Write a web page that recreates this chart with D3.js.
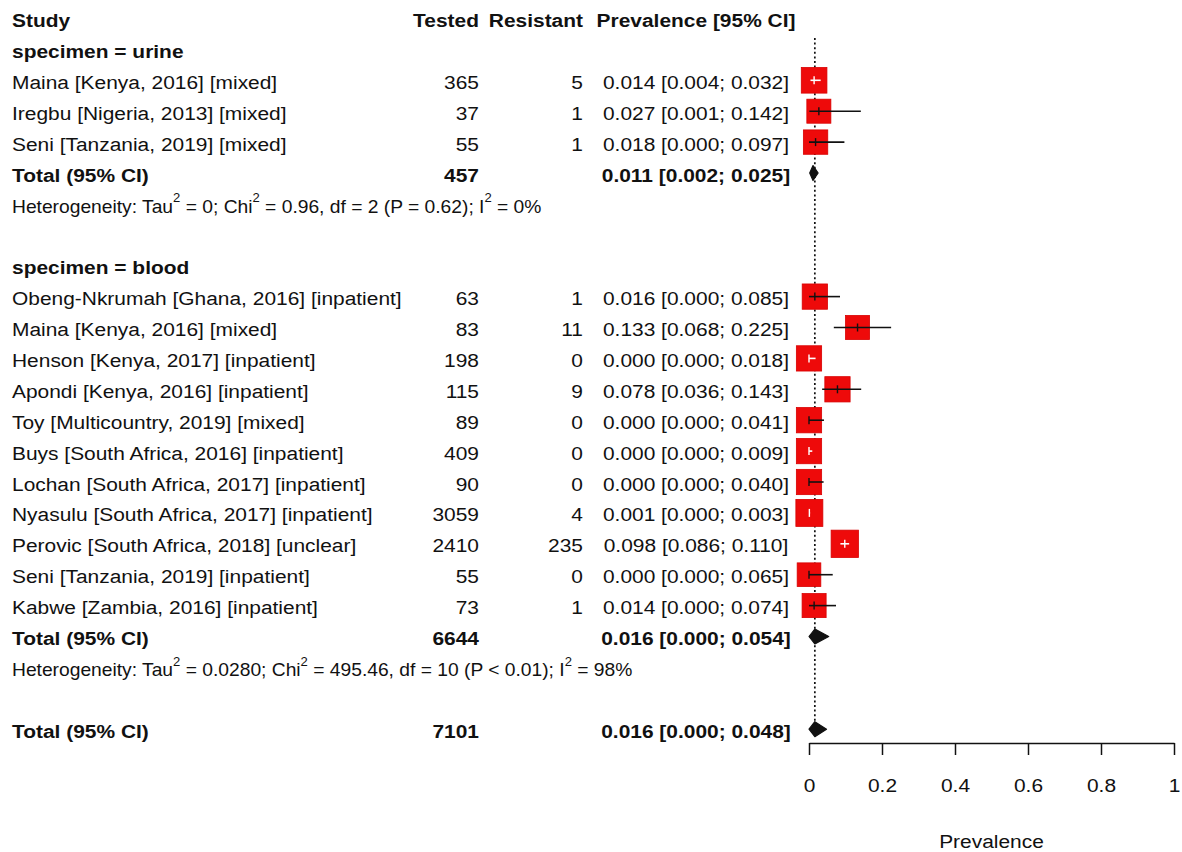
<!DOCTYPE html>
<html><head><meta charset="utf-8">
<script src="https://cdn.jsdelivr.net/npm/d3@7"></script>
<style>
html,body{margin:0;padding:0;background:#fff;}
svg{display:block;font-family:"Liberation Sans", Arial, sans-serif;}
text{white-space:pre;}
</style></head><body>
<svg id="chart" width="1182" height="852"></svg>
<script>
// ---------------- DATA ----------------
const groupNames = ["urine", "blood"];
const studyGroup = ["urine","urine","urine",
  "blood","blood","blood","blood","blood","blood","blood","blood","blood","blood","blood"];
const studyLabels = [
  "Maina [Kenya, 2016] [mixed]",
  "Iregbu [Nigeria, 2013] [mixed]",
  "Seni [Tanzania, 2019] [mixed]",
  "Obeng-Nkrumah [Ghana, 2016] [inpatient]",
  "Maina [Kenya, 2016] [mixed]",
  "Henson [Kenya, 2017] [inpatient]",
  "Apondi [Kenya, 2016] [inpatient]",
  "Toy [Multicountry, 2019] [mixed]",
  "Buys [South Africa, 2016] [inpatient]",
  "Lochan [South Africa, 2017] [inpatient]",
  "Nyasulu [South Africa, 2017] [inpatient]",
  "Perovic [South Africa, 2018] [unclear]",
  "Seni [Tanzania, 2019] [inpatient]",
  "Kabwe [Zambia, 2016] [inpatient]"
];
const tested    = [365, 37, 55, 63, 83, 198, 115, 89, 409, 90, 3059, 2410, 55, 73];
const resistant = [5, 1, 1, 1, 11, 0, 9, 0, 0, 0, 4, 235, 0, 1];
const prevalence = [0.014, 0.027, 0.018, 0.016, 0.133, 0.000, 0.078, 0.000, 0.000, 0.000, 0.001, 0.098, 0.000, 0.014];
const ciLower    = [0.004, 0.001, 0.000, 0.000, 0.068, 0.000, 0.036, 0.000, 0.000, 0.000, 0.000, 0.086, 0.000, 0.000];
const ciUpper    = [0.032, 0.142, 0.097, 0.085, 0.225, 0.018, 0.143, 0.041, 0.009, 0.040, 0.003, 0.110, 0.065, 0.074];
// approximate study weights (%), read from the square sizes
const weights    = [7.4, 6.5, 6.7, 7.2, 6.5, 7.2, 7.2, 7.2, 7.2, 7.2, 8.2, 8.4, 6.3, 6.5];

const subgroupTested = [457, 6644];
const subgroupPrev   = [0.011, 0.016];
const subgroupLower  = [0.002, 0.000];
const subgroupUpper  = [0.025, 0.054];
const hetTau2 = ["0", "0.0280"];
const hetChi2 = ["0.96", "495.46"];
const hetDf   = ["2", "10"];
const hetP    = ["= 0.62", "< 0.01"];
const hetI2   = ["0%", "98%"];

const overallTested = 7101;
const overallPrev = 0.016, overallLower = 0.000, overallUpper = 0.048;

const columnHeaders = ["Study", "Tested", "Resistant", "Prevalence [95% CI]"];
const totalLabel = "Total (95% CI)";
const axisTicks = [0, 0.2, 0.4, 0.6, 0.8, 1];
const axisTitle = "Prevalence";

// ---------------- LAYOUT ----------------
const svg = d3.select("#chart");
const INK = "#111";
const FS = 19.2, SX = 1.09;      // main font size / horizontal stretch
const HFS = 17.5, HSX = 1.10;    // heterogeneity text
const BASE = 8.5;                // baseline offset from row centre

const x = d3.scaleLinear().domain([0, 1]).range([809, 1174]);
const f3 = d3.format(".3f");
const ciText = (p, l, u) => `${f3(p)} [${f3(l)}; ${f3(u)}]`;

// build row list
const rows = [{type: "header"}];
groupNames.forEach((g, gi) => {
  rows.push({type: "group", label: `specimen = ${g}`});
  studyGroup.forEach((sg, i) => { if (sg === g) rows.push({type: "study", i}); });
  rows.push({type: "total", tested: subgroupTested[gi], p: subgroupPrev[gi], l: subgroupLower[gi], u: subgroupUpper[gi]});
  rows.push({type: "het", gi});
  rows.push({type: "blank"});
});
rows.push({type: "total", tested: overallTested, p: overallPrev, l: overallLower, u: overallUpper});

const y = d3.scaleLinear().domain([0, rows.length - 1]).range([18.5, 729.2]);

const colStudy = 12, colTested = 479, colRes = 583, colPrev = 696;

function txt(g, px, py, parts, opt = {}) {
  const size = opt.size || FS, sx = opt.sx || SX;
  const t = g.append("text")
    .attr("transform", `translate(${px},${py}) scale(${sx},1)`)
    .attr("text-anchor", opt.anchor || "start")
    .attr("font-size", size)
    .attr("font-weight", opt.bold ? "bold" : "normal")
    .attr("fill", INK);
  if (typeof parts === "string") { t.text(parts); return t; }
  const up = size * 0.62;
  let raised = false;
  parts.forEach(p => {
    const ts = t.append("tspan").text(p.s);
    if (p.sup) {
      ts.attr("dy", -up).attr("font-size", size * 0.68);
      raised = true;
    } else if (raised) {
      ts.attr("dy", up);
      raised = false;
    }
  });
  return t;
}

const gText = svg.append("g");
const gRef = svg.append("g");
const gMarks = svg.append("g");

// reference dotted line at overall estimate
gRef.append("line")
  .attr("x1", x(overallPrev)).attr("x2", x(overallPrev))
  .attr("y1", 38).attr("y2", 737)
  .attr("stroke", INK).attr("stroke-width", 1.7)
  .attr("stroke-dasharray", "2,2.6");

const sizeScale = d3.scaleSqrt().domain([0, d3.max(weights)]).range([0, 27.3]);

rows.forEach((r, ri) => {
  const cy = y(ri), by = cy + BASE;
  if (r.type === "header") {
    txt(gText, colStudy, by, columnHeaders[0], {bold: true});
    txt(gText, colTested, by, columnHeaders[1], {bold: true, anchor: "end"});
    txt(gText, colRes, by, columnHeaders[2], {bold: true, anchor: "end"});
    txt(gText, colPrev, by, columnHeaders[3], {bold: true, anchor: "middle"});
  } else if (r.type === "group") {
    txt(gText, colStudy, by, r.label, {bold: true});
  } else if (r.type === "study") {
    const i = r.i;
    txt(gText, colStudy, by, studyLabels[i]);
    txt(gText, colTested, by, String(tested[i]), {anchor: "end"});
    txt(gText, colRes, by, String(resistant[i]), {anchor: "end"});
    txt(gText, colPrev, by, ciText(prevalence[i], ciLower[i], ciUpper[i]), {anchor: "middle"});
    const s = sizeScale(weights[i]);
    const cx = x(prevalence[i]);
    gMarks.append("rect")
      .attr("x", cx - s / 2).attr("y", cy - s / 2)
      .attr("width", s).attr("height", s)
      .attr("fill", "#ee0a0a").attr("stroke", "#d80000").attr("stroke-width", 0.8);
    const inside = x(ciLower[i]) >= cx - s / 2 && x(ciUpper[i]) <= cx + s / 2;
    const col = inside ? "#fff" : INK;
    gMarks.append("line")
      .attr("x1", x(ciLower[i])).attr("x2", x(ciUpper[i]))
      .attr("y1", cy).attr("y2", cy)
      .attr("stroke", col).attr("stroke-width", 1.6);
    gMarks.append("line")
      .attr("x1", cx).attr("x2", cx)
      .attr("y1", cy - 4).attr("y2", cy + 4)
      .attr("stroke", col).attr("stroke-width", 1.4);
  } else if (r.type === "total") {
    txt(gText, colStudy, by, totalLabel, {bold: true});
    txt(gText, colTested, by, String(r.tested), {bold: true, anchor: "end"});
    txt(gText, colPrev, by, ciText(r.p, r.l, r.u), {bold: true, anchor: "middle"});
    const h = 7.5;
    const pts = [[x(r.l), cy], [x(r.p), cy - h], [x(r.u), cy], [x(r.p), cy + h]];
    gMarks.append("path")
      .attr("d", d3.line()(pts) + "Z")
      .attr("fill", INK).attr("stroke", INK).attr("stroke-width", 1.2)
      .attr("stroke-linejoin", "round");
  } else if (r.type === "het") {
    const gi = r.gi;
    txt(gText, colStudy, cy + 9, [
      {s: "Heterogeneity: Tau"}, {s: "2", sup: true},
      {s: ` = ${hetTau2[gi]}; Chi`}, {s: "2", sup: true},
      {s: ` = ${hetChi2[gi]}, df = ${hetDf[gi]} (P ${hetP[gi]}); I`}, {s: "2", sup: true},
      {s: ` = ${hetI2[gi]}`}
    ], {size: HFS, sx: HSX});
  }
});

// axis
const axisY = 743;
const axis = d3.axisBottom(x).tickValues(axisTicks).tickSize(12).tickSizeOuter(0)
  .tickFormat(d3.format("~g"));
const ga = svg.append("g").attr("transform", `translate(0,${axisY})`).call(axis);
ga.attr("font-family", null).attr("font-size", null);
ga.select(".domain").attr("stroke", INK).attr("stroke-width", 1.5);
ga.selectAll(".tick line").attr("stroke", INK).attr("stroke-width", 1.5);
ga.selectAll(".tick text")
  .attr("font-size", FS).attr("fill", INK)
  .attr("y", 49).attr("dy", null)
  .attr("transform", `scale(${SX},1)`);

txt(svg, x(0.5), 848, axisTitle, {anchor: "middle"});
</script>
</body></html>
